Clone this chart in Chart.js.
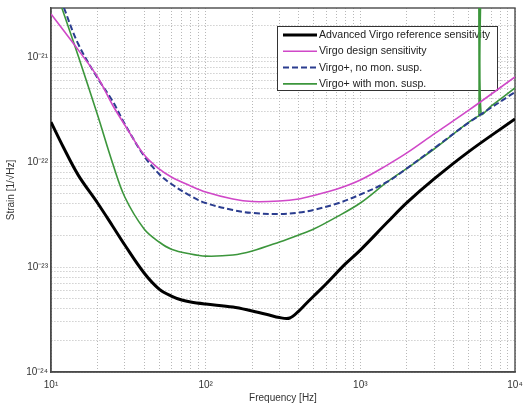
<!DOCTYPE html>
<html>
<head>
<meta charset="utf-8">
<script src="https://cdn.jsdelivr.net/npm/chart.js@4"></script>
<style>
  html, body { margin: 0; padding: 0; background: #fff; }
  #contenedor { width: 527px; height: 407px; position: relative; }
</style>
</head>
<body>
<div id="contenedor"><canvas id="grafica"></canvas></div>
<script>
// Advanced Virgo (negro)
const avFreq = [10, 12, 15, 20, 25, 30, 40, 50, 60, 70, 80, 100, 150, 200, 250, 300, 350, 400, 450, 500, 600, 800, 1000, 1500, 2000, 3000, 5000, 10000];
const avStrain = [2.40e-22, 1.39e-22, 7.5e-23, 4.07e-23, 2.46e-23, 1.62e-23, 8.77e-24, 6.17e-24, 5.29e-24, 4.85e-24, 4.64e-24, 4.44e-24, 4.16e-24, 3.81e-24, 3.53e-24, 3.30e-24, 3.27e-24, 3.81e-24, 4.54e-24, 5.29e-24, 6.89e-24, 1.07e-23, 1.45e-23, 2.68e-23, 4.1e-23, 6.9e-23, 1.25e-22, 2.57e-22];

// Virgo design + Virgo+ sin suspension monolitica
const vFreq = [10, 12, 15, 20, 25, 30, 40, 50, 60, 80, 100, 150, 200, 300, 400, 500, 700, 1000, 1500, 2000, 3000, 5000, 10000];
const designStrain = [2.57e-21, 1.81e-21, 1.17e-21, 6.45e-22, 3.49e-22, 2.25e-22, 1.17e-22, 8.58e-23, 7.2e-23, 5.91e-23, 5.18e-23, 4.44e-23, 4.2e-23, 4.25e-23, 4.45e-23, 4.8e-23, 5.5e-23, 6.74e-23, 9.4e-23, 1.22e-22, 1.85e-22, 3.1e-22, 6.45e-22];
const noMonStrain = [6.17e-21, 3.06e-21, 1.33e-21, 6.3e-22, 3.81e-22, 2.30e-22, 1.14e-22, 7.69e-23, 6.17e-23, 4.75e-23, 4.07e-23, 3.49e-23, 3.27e-23, 3.2e-23, 3.3e-23, 3.5e-23, 4.0e-23, 4.9e-23, 6.5e-23, 8.7e-23, 1.35e-22, 2.36e-22, 4.64e-22];

// Virgo+ con suspension monolitica (con el pico del modo violin)
const monFreq = [10, 12, 15, 20, 25, 30, 40, 50, 60, 80, 100, 150, 200, 300, 400, 500, 700, 1000, 1500, 2000, 3000, 5000, 5750, 5850, 5860, 6020, 6030, 7000, 10000];
const monStrain = [5.9e-21, 2.68e-21, 1.02e-21, 2.8e-22, 9.78e-23, 4.64e-23, 2.30e-23, 1.73e-23, 1.48e-23, 1.33e-23, 1.27e-23, 1.30e-23, 1.42e-23, 1.73e-23, 2.02e-23, 2.30e-23, 2.99e-23, 4.07e-23, 6.5e-23, 8.7e-23, 1.33e-22, 2.38e-22, 2.72e-22, 2.76e-22, 1e-20, 1e-20, 2.88e-22, 3.41e-22, 5.07e-22];

// Ejes
const xTicks = [10, 100, 1000, 10000];
const yTicks = [1e-24, 1e-23, 1e-22, 1e-21];
const yMax = 2.93e-21;

const sup = {'-': '\u207B', '0': '\u2070', '1': '\u00B9', '2': '\u00B2', '3': '\u00B3', '4': '\u2074'};
function potencia(v) {
    let e = Math.round(Math.log10(v));
    return '10' + String(e).split('').map(c => sup[c]).join('');
}
function esMayor(v, lista) {
    return lista.some(t => Math.abs(Math.log10(v) - Math.log10(t)) < 1e-6);
}
// lineas de rejilla en 1..9 x 10^n
function rejilla(min, max) {
    let out = [];
    for (let e = Math.floor(Math.log10(min)); e <= Math.ceil(Math.log10(max)); e++) {
        for (let m = 1; m <= 9; m++) {
            let v = m * Math.pow(10, e);
            if (v >= min * 0.999 && v <= max * 1.001) out.push({value: v});
        }
    }
    return out;
}

function puntos(xs, ys) {
    return xs.map((x, i) => ({x: x, y: ys[i]}));
}

const fuente = '"Liberation Sans", Arial, sans-serif';

// Marco y leyenda dentro del area
const leyenda = {
    id: 'leyenda',
    beforeDatasetsDraw(chart) {
        const ctx = chart.ctx;
        const a = chart.chartArea;
        ctx.save();
        ctx.strokeStyle = '#4a4a4a';
        ctx.lineWidth = 1.4;
        ctx.strokeRect(a.left, a.top, a.right - a.left, a.bottom - a.top);

        ctx.fillStyle = '#fff';
        ctx.fillRect(277.5, 26.5, 220, 64);
        ctx.strokeStyle = '#333';
        ctx.lineWidth = 1;
        ctx.strokeRect(277.5, 26.5, 220, 64);
        ctx.font = '10.6px ' + fuente;
        ctx.textBaseline = 'middle';
        chart.data.datasets.forEach((ds, i) => {
            let y = 35 + i * 16.3;
            ctx.beginPath();
            ctx.setLineDash(ds.borderDash || []);
            ctx.strokeStyle = ds.borderColor;
            ctx.lineWidth = ds.borderWidth;
            ctx.moveTo(283, y);
            ctx.lineTo(317, y);
            ctx.stroke();
            ctx.setLineDash([]);
            ctx.fillStyle = '#222';
            ctx.fillText(ds.label, 319, y);
        });
        ctx.restore();
    }
};

const gridOpts = {color: '#b8b8b8', lineWidth: 1, drawTicks: false};
const borderOpts = {display: true, color: '#4a4a4a', width: 1.4, dash: [1, 2]};

new Chart(document.getElementById('grafica'), {
    type: 'line',
    data: {
        datasets: [{
            label: 'Advanced Virgo reference sensitivity',
            data: puntos(avFreq, avStrain),
            borderColor: '#000000',
            borderWidth: 3
        }, {
            label: 'Virgo design sensitivity',
            data: puntos(vFreq, designStrain),
            borderColor: '#d048c8',
            borderWidth: 1.6
        }, {
            label: 'Virgo+, no mon. susp.',
            data: puntos(vFreq, noMonStrain),
            borderColor: '#2b3d8f',
            borderWidth: 2,
            borderDash: [6, 3]
        }, {
            label: 'Virgo+ with mon. susp.',
            data: puntos(monFreq, monStrain),
            borderColor: '#3c963c',
            borderWidth: 1.6
        }]
    },
    options: {
        responsive: true,
        maintainAspectRatio: false,
        animation: false,
        devicePixelRatio: 1,
        layout: {padding: {left: 0, right: 12, top: 8, bottom: 0}},
        elements: {
            point: {radius: 0},
            line: {tension: 0.35, fill: false}
        },
        plugins: {
            legend: {display: false},
            tooltip: {enabled: false}
        },
        scales: {
            x: {
                type: 'logarithmic',
                min: 10,
                max: 10000,
                grid: gridOpts,
                border: borderOpts,
                afterBuildTicks: s => { s.ticks = rejilla(10, 10000); },
                afterFit: s => { s.height = 35; s.paddingLeft = 0; s.paddingRight = 0; },
                ticks: {
                    autoSkip: false,
                    maxRotation: 0,
                    padding: 7,
                    color: '#333',
                    font: {family: fuente, size: 10},
                    callback: v => esMayor(v, xTicks) ? potencia(v) : ''
                },
                title: {
                    display: true,
                    text: 'Frequency [Hz]',
                    color: '#333',
                    font: {family: fuente, size: 10},
                    padding: {top: 0, bottom: 3}
                }
            },
            y: {
                type: 'logarithmic',
                min: 1e-24,
                max: yMax,
                grid: gridOpts,
                border: borderOpts,
                afterBuildTicks: s => { s.ticks = rejilla(1e-24, yMax); },
                afterFit: s => { s.width = 51; s.paddingTop = 0; s.paddingBottom = 0; },
                ticks: {
                    autoSkip: false,
                    padding: 3,
                    color: '#333',
                    font: {family: fuente, size: 10},
                    callback: v => esMayor(v, yTicks) ? potencia(v) : ''
                },
                title: {
                    display: true,
                    text: 'Strain [1/\u221AHz]',
                    color: '#333',
                    font: {family: fuente, size: 10},
                    padding: {top: 5, bottom: 0}
                }
            }
        }
    },
    plugins: [leyenda]
});
</script>
</body>
</html>
